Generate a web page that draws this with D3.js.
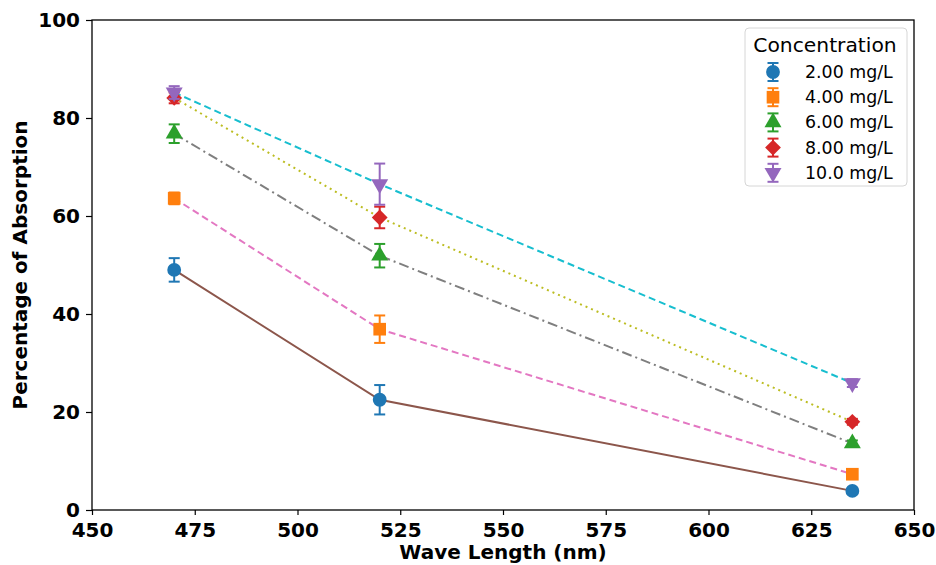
<!DOCTYPE html>
<html><head><meta charset="utf-8">
<script src="https://cdn.jsdelivr.net/npm/d3@7"></script>
<style>body{margin:0;background:#fff}svg{display:block}</style>
</head><body>
<svg id="chart" width="936" height="565"></svg>
<script>
const wavelengths = [470, 520, 635];
const seriesNames = ["2.00 mg/L", "4.00 mg/L", "6.00 mg/L", "8.00 mg/L", "10.0 mg/L"];
const values2 = [49.0, 22.5, 3.9];
const values4 = [63.6, 36.9, 7.3];
const values6 = [76.8, 51.9, 13.6];
const values8 = [84.1, 59.7, 18.0];
const values10 = [85.2, 66.5, 25.9];
const errors2 = [2.4, 3.0, 0.5];
const errors4 = [1.2, 2.8, 0.6];
const errors6 = [1.9, 2.4, 0.6];
const errors8 = [1.1, 2.2, 0.6];
const errors10 = [1.3, 4.2, 0.8];
const xTicks = [450, 475, 500, 525, 550, 575, 600, 625, 650];
const yTicks = [0, 20, 40, 60, 80, 100];

const series = [
  {name: seriesNames[0], v: values2, e: errors2, mk: "#1f77b4", ln: "#8c564b", dash: null, sym: "circle"},
  {name: seriesNames[1], v: values4, e: errors4, mk: "#ff7f0e", ln: "#e377c2", dash: "7,4", sym: "square"},
  {name: seriesNames[2], v: values6, e: errors6, mk: "#2ca02c", ln: "#7f7f7f", dash: "10,4,2,4", sym: "triangle"},
  {name: seriesNames[3], v: values8, e: errors8, mk: "#d62728", ln: "#bcbd22", dash: "2,4", sym: "diamond"},
  {name: seriesNames[4], v: values10, e: errors10, mk: "#9467bd", ln: "#17becf", dash: "7,4", sym: "tridown"}
];

const svg = d3.select("#chart");
const L = 92, R = 914, T = 20, B = 510;
const x = d3.scaleLinear().domain([450, 650]).range([L, R]);
const y = d3.scaleLinear().domain([0, 100]).range([B, T]);

function symPath(s) {
  if (s === "circle") return {d: d3.symbol(d3.symbolCircle, 150)(), rot: 0};
  if (s === "square") return {d: d3.symbol(d3.symbolSquare, 160)(), rot: 0};
  if (s === "triangle") return {d: d3.symbol(d3.symbolTriangle, 125)(), rot: 0};
  if (s === "diamond") return {d: d3.symbol(d3.symbolSquare, 125)(), rot: 45};
  return {d: d3.symbol(d3.symbolTriangle, 125)(), rot: 180};
}

// axes
const font = "'DejaVu Sans', sans-serif";
const xa = svg.append("g").attr("transform", `translate(0,${B})`)
  .call(d3.axisBottom(x).tickValues(xTicks).tickSize(5).tickPadding(8).tickFormat(d3.format("d")));
const ya = svg.append("g").attr("transform", `translate(${L},0)`)
  .call(d3.axisLeft(y).tickValues(yTicks).tickSize(6).tickPadding(6).tickFormat(d3.format("d")));
[xa, ya].forEach(a => {
  a.selectAll("text").attr("font-family", font).attr("font-weight", "bold").attr("font-size", 20).attr("fill", "#000");
  a.selectAll("line").attr("stroke", "#000").attr("stroke-width", 1.2);
  a.select(".domain").remove();
});
svg.append("rect").attr("x", L).attr("y", T).attr("width", R - L).attr("height", B - T)
  .attr("fill", "none").attr("stroke", "#000").attr("stroke-width", 1.3);

svg.append("text").attr("x", (L + R) / 2).attr("y", 559).attr("text-anchor", "middle")
  .attr("font-family", font).attr("font-weight", "bold").attr("font-size", 20).text("Wave Length (nm)");
svg.append("text").attr("transform", `translate(27,${(T + B) / 2}) rotate(-90)`).attr("text-anchor", "middle")
  .attr("font-family", font).attr("font-weight", "bold").attr("font-size", 20).text("Percentage of Absorption");

const plot = svg.append("g");
const line = d3.line().x((d, i) => x(wavelengths[i])).y(d => y(d));
series.forEach(s => {
  plot.append("path").attr("d", line(s.v)).attr("fill", "none").attr("stroke", s.ln)
    .attr("stroke-width", 2).attr("stroke-dasharray", s.dash);
});
series.forEach(s => {
  const g = plot.append("g");
  const sp = symPath(s.sym);
  s.v.forEach((v, i) => {
    const cx = x(wavelengths[i]);
    const y1 = y(v + s.e[i]), y0 = y(v - s.e[i]);
    g.append("line").attr("x1", cx).attr("x2", cx).attr("y1", y1).attr("y2", y0).attr("stroke", s.mk).attr("stroke-width", 2);
    [y1, y0].forEach(yy => g.append("line").attr("x1", cx - 5.5).attr("x2", cx + 5.5).attr("y1", yy).attr("y2", yy).attr("stroke", s.mk).attr("stroke-width", 2));
    g.append("path").attr("d", sp.d).attr("fill", s.mk)
      .attr("transform", `translate(${cx},${y(v)}) rotate(${sp.rot})`);
  });
});

// legend
const lg = svg.append("g");
lg.append("rect").attr("x", 745).attr("y", 28).attr("width", 162).attr("height", 158).attr("rx", 4)
  .attr("fill", "#fff").attr("fill-opacity", 0.8).attr("stroke", "#d6d6d6").attr("stroke-width", 1);
lg.append("text").attr("x", 825).attr("y", 52).attr("text-anchor", "middle")
  .attr("font-family", font).attr("font-size", 20.3).text("Concentration");
series.forEach((s, i) => {
  const cy = 72 + i * 25.2;
  const cx = 773;
  const sp = symPath(s.sym);
  lg.append("line").attr("x1", cx).attr("x2", cx).attr("y1", cy - 9).attr("y2", cy + 9).attr("stroke", s.mk).attr("stroke-width", 2);
  [cy - 9, cy + 9].forEach(yy => lg.append("line").attr("x1", cx - 5.5).attr("x2", cx + 5.5).attr("y1", yy).attr("y2", yy).attr("stroke", s.mk).attr("stroke-width", 2));
  lg.append("path").attr("d", sp.d).attr("fill", s.mk).attr("transform", `translate(${cx},${cy}) rotate(${sp.rot})`);
  lg.append("text").attr("x", 805).attr("y", cy + 6).attr("font-family", font).attr("font-size", 17.4).text(s.name);
});
</script>
</body></html>
